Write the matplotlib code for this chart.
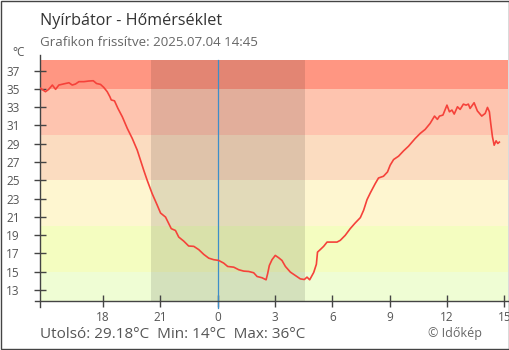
import matplotlib.pyplot as plt
from matplotlib.patches import Rectangle

plt.rcParams['font.family'] = ['Open Sans', 'DejaVu Sans']

# idő órában, éjfélhez képest (negatív = előző nap)
hours = [-9.27, -9.01, -8.84, -8.65, -8.48, -8.31, -7.96, -7.78, -7.61, -7.44,
         -7.26, -7.0, -6.74, -6.51, -6.34, -6.13, -5.96, -5.78, -5.64, -5.57,
         -5.4, -5.22, -4.99, -4.73, -4.47, -4.21, -4.04, -3.87, -3.69, -3.43,
         -3.17, -2.99, -2.73, -2.56, -2.43, -2.21, -2.04, -1.78, -1.52, -1.25,
         -0.99, -0.73, -0.47, -0.21, 0.05, 0.31, 0.52, 0.84, 1.1, 1.36,
         1.62, 1.88, 2.06, 2.32, 2.53, 2.61, 2.7, 2.84, 3.01, 3.19,
         3.36, 3.54, 3.8, 4.06, 4.32, 4.53, 4.67, 4.81, 5.02, 5.16,
         5.22, 5.36, 5.54, 5.72, 5.98, 6.24, 6.41, 6.67, 6.93, 7.19,
         7.46, 7.63, 7.81, 7.98, 8.24, 8.41, 8.67, 8.88, 9.02, 9.2,
         9.46, 9.72, 9.98, 10.07, 10.33, 10.59, 10.85, 11.11, 11.34, 11.49,
         11.6, 11.78, 11.9, 11.99, 12.12, 12.25, 12.37, 12.54, 12.68, 12.85,
         12.99, 13.11, 13.2, 13.41, 13.58, 13.81, 13.99, 14.11, 14.21, 14.28,
         14.37, 14.46, 14.56, 14.65, 14.73]
temps = [35.07, 34.7, 34.96, 35.43, 34.96, 35.43, 35.6, 35.68, 35.43, 35.54,
         35.8, 35.8, 35.87, 35.9, 35.6, 35.5, 35.17, 34.7, 34.15, 33.8,
         33.7, 32.87, 31.95, 30.68, 29.58, 28.3, 27.2, 26.1, 25.0, 23.54,
         22.3, 21.41, 20.97, 20.25, 19.7, 19.5, 18.78, 18.34, 17.8, 17.76,
         17.4, 16.88, 16.47, 16.3, 16.22, 15.93, 15.56, 15.48, 15.2, 15.05,
         15.01, 14.87, 14.46, 14.32, 14.1, 14.76, 15.67, 16.3, 16.77, 16.51,
         16.22, 15.56, 14.94, 14.57, 14.2, 14.13, 14.39, 14.1, 14.9, 15.8,
         17.13, 17.4, 17.76, 18.23, 18.23, 18.23, 18.42, 18.97, 19.7, 20.32,
         20.91, 21.71, 22.88, 23.61, 24.64, 25.25, 25.44, 25.91, 26.65, 27.27,
         27.64, 28.22, 28.73, 28.95, 29.58, 30.13, 30.57, 31.23, 32.03, 31.67,
         32.03, 32.14, 32.76, 33.23, 32.5, 32.69, 32.25, 33.05, 32.76, 33.34,
         33.23, 33.34, 32.87, 33.49, 32.6, 32.03, 32.32, 32.98, 32.5, 31.23,
         29.76, 28.84, 29.32, 29.03, 29.18]

# hőmérsékleti sávok
band_edges = [11.83, 15, 20, 25, 30, 35, 38.17]
band_colors = ['#effdd4', '#f4fdc0', '#fef6d0', '#fbdcc0', '#fec4af', '#ff9682']

# éjszaka (napnyugta / napkelte)
sunset = -3.47
sunrise = 4.57

xtick_pos = [-6, -3, 0, 3, 6, 9, 12, 15]
xtick_labels = ['18', '21', '0', '3', '6', '9', '12', '15']
ytick_pos = list(range(13, 38, 2))

fig = plt.figure(figsize=(5.1, 3.5), dpi=100)
ax = fig.add_axes([0.0794, 0.1414, 0.9173, 0.6871])

for i in range(len(band_colors)):
    ax.axhspan(band_edges[i], band_edges[i + 1], color=band_colors[i], lw=0, zorder=0)

ax.axvspan(sunset, sunrise, color='black', alpha=0.11, lw=0, zorder=1)
ax.axvline(0, ymin=-0.03, ymax=1, color='#3d8ec9', lw=0.9, zorder=2, clip_on=False)

ax.plot(hours, temps, color='#f5423a', lw=1.2, zorder=3)

ax.set_xlim(-9.27, 15.2)
ax.set_ylim(band_edges[0], band_edges[-1])
ax.set_xticks(xtick_pos)
ax.set_xticklabels(xtick_labels)
ax.set_yticks(ytick_pos)

for s in ['top', 'right']:
    ax.spines[s].set_visible(False)
for s in ['left', 'bottom']:
    ax.spines[s].set_color('#444444')
    ax.spines[s].set_linewidth(1.0)
# a tengelyvonalak kicsit túlnyúlnak a rajzterületen
ax.spines['left'].set_bounds(11.1, 38.7)
ax.spines['bottom'].set_bounds(-9.58, 15.2)

ax.tick_params(axis='both', direction='inout', length=9, width=1, color='#444444',
               labelsize=8.5, labelcolor='#555555')
ax.tick_params(axis='y', pad=10.5)
ax.tick_params(axis='x', pad=3)

fig.text(40 / 510, 1 - 25 / 350, 'Nyírbátor - Hőmérséklet', fontsize=11.6,
         color='#333333', ha='left', va='baseline')
fig.text(40 / 510, 1 - 45.5 / 350, 'Grafikon frissítve: 2025.07.04 14:45', fontsize=9.6,
         color='#666666', ha='left', va='baseline')
fig.text(12 / 510, 1 - 56 / 350, '°C', fontsize=8.5, color='#555555',
         ha='left', va='baseline')
fig.text(40 / 510, 1 - 338.5 / 350, 'Utolsó: 29.18°C  Min: 14°C  Max: 36°C',
         fontsize=11, color='#555555', ha='left', va='baseline')
fig.text(482 / 510, 1 - 336.5 / 350, '© Időkép', fontsize=9, color='#666666',
         ha='right', va='baseline')

fig.patches.append(Rectangle((0.001, 0.0015), 0.997, 0.996, transform=fig.transFigure,
                             fill=False, edgecolor='#444444', lw=1.0))

fig.savefig('out.png', dpi=100)
